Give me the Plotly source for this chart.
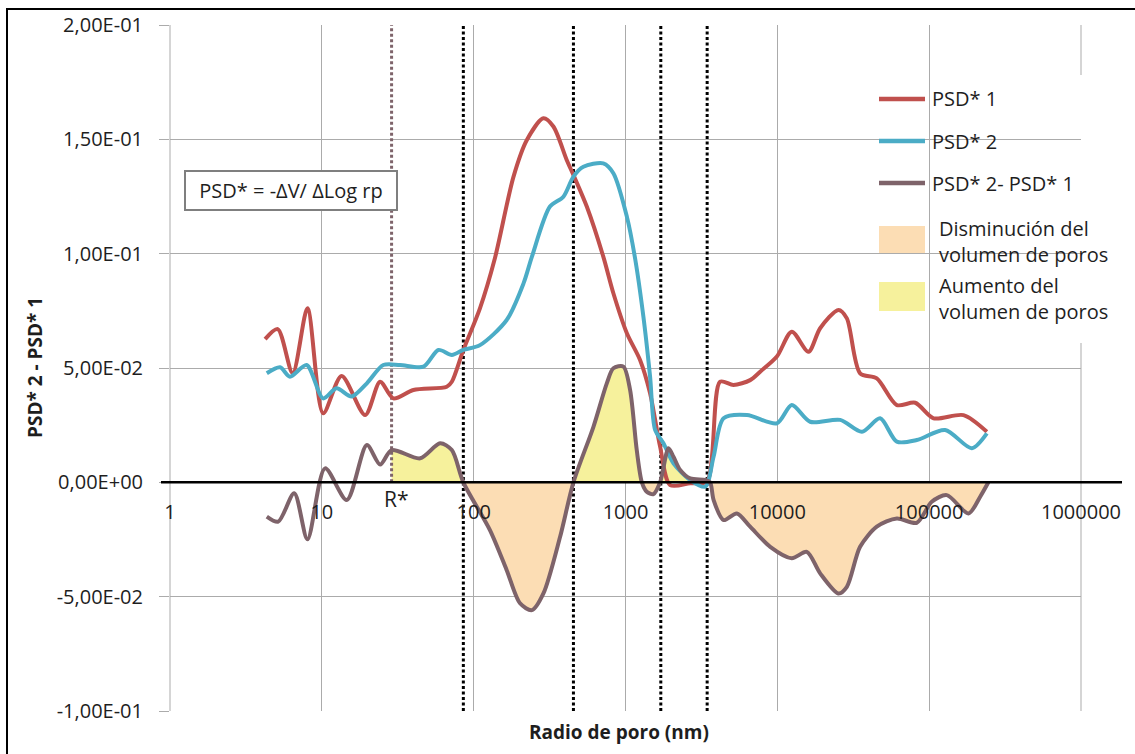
import plotly.graph_objects as go

# ---------------- data ----------------
# Pore radius in nm
psd1_x = [4.23, 5.12, 6.43, 8.04, 10.2, 13.5, 19.3, 24.2, 29.6, 40.1, 66.5, 71.8, 85.5, 110, 138, 183,
          224, 288, 335, 410, 454, 556, 714, 832, 1021, 1247, 1452, 1690, 1968, 2667, 3436, 4198, 5140,
          6622, 7709, 9931, 12445, 16032, 19143, 25293, 28708, 35075, 45186, 61235, 80910, 106905,
          168267, 239883]
psd1_y = [0.0626, 0.067, 0.0477, 0.0761, 0.0302, 0.0465, 0.0294, 0.044, 0.0367, 0.0404, 0.0418, 0.044,
          0.0579, 0.0761, 0.098, 0.1337, 0.1497, 0.1592, 0.1556, 0.141, 0.1344, 0.1206, 0.0987, 0.0827,
          0.0652, 0.0535, 0.0389, 0.0156, -0.0012, -0.0004, 0.0003, 0.044, 0.0426, 0.0447, 0.0484,
          0.055, 0.0659, 0.0571, 0.0674, 0.0754, 0.0717, 0.0477, 0.0455, 0.0338, 0.0348, 0.028, 0.0294,
          0.0221]

psd2_x = [4.34, 5.31, 6.17, 7.94, 10.2, 12.5, 15.7, 19.8, 25.4, 32.7, 46.7, 58.6, 71.8, 85.5, 110, 165,
          213, 242, 318, 390, 454, 528, 714, 832, 1021, 1156, 1312, 1452, 1567, 1778, 2070, 2667, 3350,
          3802, 4426, 6310, 9931, 12445, 16444, 25942, 36058, 47534, 61235, 82794, 127350, 190985,
          239883]
psd2_y = [0.0477, 0.0503, 0.0462, 0.0513, 0.0367, 0.0411, 0.0375, 0.0433, 0.0513, 0.0513, 0.0506,
          0.0579, 0.0557, 0.0579, 0.06, 0.071, 0.087, 0.0987, 0.1206, 0.1249, 0.1337, 0.138, 0.1395,
          0.1352, 0.1162, 0.098, 0.0724, 0.0462, 0.0229, 0.0171, 0.0083, 0.001, -0.0019, 0.0112, 0.028,
          0.0294, 0.0258, 0.0338, 0.0265, 0.0273, 0.0221, 0.028, 0.0178, 0.0185, 0.0229, 0.0149, 0.0214]

diff_x = [4.34, 5.16, 6.58, 8.04, 10.5, 14.6, 19.8, 24.2, 28.8, 44.4, 60.1, 71.8, 85.5, 128, 165, 202,
          242, 288, 371, 454, 615, 753, 832, 968, 1072, 1186, 1282, 1380, 1528, 1690, 1919, 2070, 2291,
          2667, 3350, 3606, 3802, 4426, 5408, 6622, 8974, 12445, 15631, 19143, 25293, 28708, 35075,
          45186, 61235, 82794, 103992, 130617, 181551, 216770, 245471]
diff_y = [-0.015, -0.0172, -0.0048, -0.0249, 0.0061, -0.0077, 0.0163, 0.0078, 0.0141, 0.0105, 0.0171,
          0.0141, 0.0, -0.0209, -0.0384, -0.0529, -0.0559, -0.0486, -0.0238, 0.0, 0.0243, 0.0433,
          0.0499, 0.0506, 0.0404, 0.0141, 0.0, -0.0041, -0.0052, 0.0, 0.0149, 0.0112, 0.0054, 0.0017,
          0.001, 0.0, -0.0077, -0.0165, -0.0136, -0.0194, -0.0282, -0.0332, -0.0304, -0.0398, -0.0486,
          -0.0457, -0.0282, -0.0194, -0.0158, -0.0177, -0.0085, -0.0056, -0.0136, -0.0063, 0.0]

r_star = 28.8
limit_lines = [85.5, 454, 1708, 3450]

y_tick_vals = [-0.1, -0.05, 0.0, 0.05, 0.1, 0.15, 0.2]
y_tick_text = ["-1,00E-01", "-5,00E-02", "0,00E+00", "5,00E-02", "1,00E-01", "1,50E-01", "2,00E-01"]
x_tick_vals = [1, 10, 100, 1000, 10000, 100000, 1000000]
x_tick_text = ["1", "10", "100", "1000", "10000", "100000", "1000000"]

series_names = ["PSD* 1", "PSD* 2", "PSD* 2- PSD* 1"]
fill_names = ["Disminución del<br>volumen de poros", "Aumento del<br>volumen de poros"]

# ---------------- style ----------------
RED = "#C0504D"
BLUE = "#4BACC6"
DIFF = "#7E636A"
PEACH = "#FCDDB4"
YELLOW = "#F6F19C"
GRID = "#ABABAB"
FONT = "Open Sans"
TXT = "#1E1E1E"

# plot-area pixel geometry (for layout-only helpers)
L, R, T, B = 170, 1081, 25, 711


def px(x):
    return (x - L) / (R - L)


def py(y):
    return (B - y) / (B - T)


fig = go.Figure()

# ---- fills between the difference curve and zero (from R* onwards) ----
fx = [x for x in diff_x if x >= r_star]
fy = [y for x, y in zip(diff_x, diff_y) if x >= r_star]
runs = []
cur_x, cur_y, cur_sign = [], [], 0
for x, y in zip(fx, fy):
    s = (y > 0) - (y < 0)
    if s == 0:
        cur_x.append(x)
        cur_y.append(y)
        if cur_sign != 0:
            runs.append((cur_sign, cur_x, cur_y))
        cur_x, cur_y, cur_sign = [x], [y], 0
    else:
        if cur_sign == 0:
            cur_sign = s
        cur_x.append(x)
        cur_y.append(y)
if cur_sign != 0 and len(cur_x) > 1:
    runs.append((cur_sign, cur_x, cur_y))

for sign, xs, ys in runs:
    fig.add_trace(go.Scatter(
        x=xs, y=ys, mode="lines", fill="tozeroy",
        fillcolor=YELLOW if sign > 0 else PEACH,
        line=dict(width=0, shape="spline", smoothing=0.8),
        showlegend=False, hoverinfo="skip"))

# ---- dotted reference lines ----
for v in limit_lines:
    fig.add_trace(go.Scatter(x=[v, v], y=[-0.1, 0.2], mode="lines",
                             line=dict(color="#000000", width=3, dash="3px,2.5px"),
                             showlegend=False, hoverinfo="skip"))
fig.add_trace(go.Scatter(x=[r_star, r_star], y=[0.0, 0.2], mode="lines",
                         line=dict(color=DIFF, width=3, dash="3px,2.5px"),
                         showlegend=False, hoverinfo="skip"))

# ---- curves ----
for xs, ys, col, name in [(psd1_x, psd1_y, RED, series_names[0]),
                          (psd2_x, psd2_y, BLUE, series_names[1]),
                          (diff_x, diff_y, DIFF, series_names[2])]:
    fig.add_trace(go.Scatter(x=xs, y=ys, mode="lines", name=name,
                             line=dict(color=col, width=4, shape="spline", smoothing=0.8),
                             showlegend=False))

shapes = []
annotations = []

# boundary gridlines of the plot area (x = 1 and x = 1e6)
for xp in (0.0, 1.0):
    shapes.append(dict(type="line", xref="paper", yref="paper", x0=xp, x1=xp, y0=0, y1=1,
                       line=dict(color=GRID, width=1), layer="below"))
# outer frame
shapes.append(dict(type="rect", xref="paper", yref="paper",
                   x0=px(7), x1=px(1150), y0=py(770), y1=py(9),
                   line=dict(color="#000000", width=2), layer="above"))
# zero axis line
shapes.append(dict(type="line", xref="paper", yref="y", x0=px(161), x1=px(1122), y0=0, y1=0,
                   line=dict(color="#000000", width=2.5), layer="above"))
# legend background
shapes.append(dict(type="rect", xref="paper", yref="paper", x0=px(868), x1=px(1128),
                   y0=py(343), y1=py(75), fillcolor="white", line=dict(width=0), layer="between"))

# legend entries (custom)
leg_items = [(series_names[0], RED, 99), (series_names[1], BLUE, 141), (series_names[2], DIFF, 183)]
for name, col, yy in leg_items:
    shapes.append(dict(type="line", xref="paper", yref="paper", x0=px(879), x1=px(925),
                       y0=py(yy), y1=py(yy), line=dict(color=col, width=4.5)))
    annotations.append(dict(xref="paper", yref="paper", x=px(930), y=py(yy), text=name,
                            showarrow=False, xanchor="left", yanchor="middle",
                            font=dict(family=FONT, size=20, color=TXT)))
for name, col, y0, y1 in [(fill_names[0], PEACH, 226, 253), (fill_names[1], YELLOW, 282, 311)]:
    shapes.append(dict(type="rect", xref="paper", yref="paper", x0=px(879), x1=px(925),
                       y0=py(y1), y1=py(y0), fillcolor=col, line=dict(width=0)))
    annotations.append(dict(xref="paper", yref="paper", x=px(937), y=py((y0 + y1) / 2 + 2),
                            text=name, showarrow=False, xanchor="left", yanchor="middle",
                            align="left", font=dict(family=FONT, size=20, color=TXT)))

# formula box
annotations.append(dict(xref="paper", yref="paper", x=px(291), y=py(190.5),
                        text="PSD* = -ΔV/ ΔLog rp", showarrow=False,
                        xanchor="center", yanchor="middle", width=206, height=33,
                        bgcolor="white", bordercolor="#7F7F7F", borderwidth=2, borderpad=2,
                        font=dict(family=FONT, size=20, color=TXT)))
# R* label
annotations.append(dict(xref="paper", yref="paper", x=px(396), y=py(499), text="R*",
                        showarrow=False, xanchor="center", yanchor="middle",
                        font=dict(family=FONT, size=21, color=TXT)))
# axis titles
annotations.append(dict(xref="paper", yref="paper", x=px(619), y=py(732),
                        text="<b>Radio de poro (nm)</b>", showarrow=False,
                        xanchor="center", yanchor="middle",
                        font=dict(family=FONT, size=19, color=TXT)))
annotations.append(dict(xref="paper", yref="paper", x=px(35), y=py(368),
                        text="<b>PSD* 2 - PSD* 1</b>", showarrow=False, textangle=-90,
                        xanchor="center", yanchor="middle",
                        font=dict(family=FONT, size=19, color=TXT)))

fig.update_layout(
    width=1135, height=754,
    margin=dict(l=L, r=1135 - R, t=T, b=754 - B),
    paper_bgcolor="white", plot_bgcolor="white",
    showlegend=False,
    shapes=shapes, annotations=annotations,
    xaxis=dict(type="log", range=[0, 6], tickvals=x_tick_vals, ticktext=x_tick_text,
               showgrid=True, gridcolor=GRID, gridwidth=1, zeroline=False, showline=False,
               anchor="free", position=1 / 3, ticks="", ticklabelstandoff=16,
               tickfont=dict(family=FONT, size=20, color=TXT)),
    yaxis=dict(range=[-0.1, 0.2], tickvals=y_tick_vals, ticktext=y_tick_text,
               showgrid=True, gridcolor=GRID, gridwidth=1, zeroline=False, showline=False,
               ticks="outside", ticklen=10, tickcolor=GRID, tickwidth=1,
               ticklabelstandoff=12,
               tickfont=dict(family=FONT, size=20, color=TXT)),
)

fig.write_html("out.html", config={"displayModeBar": False},
               post_script="document.body.style.margin='0px';document.body.style.overflow='hidden';")
